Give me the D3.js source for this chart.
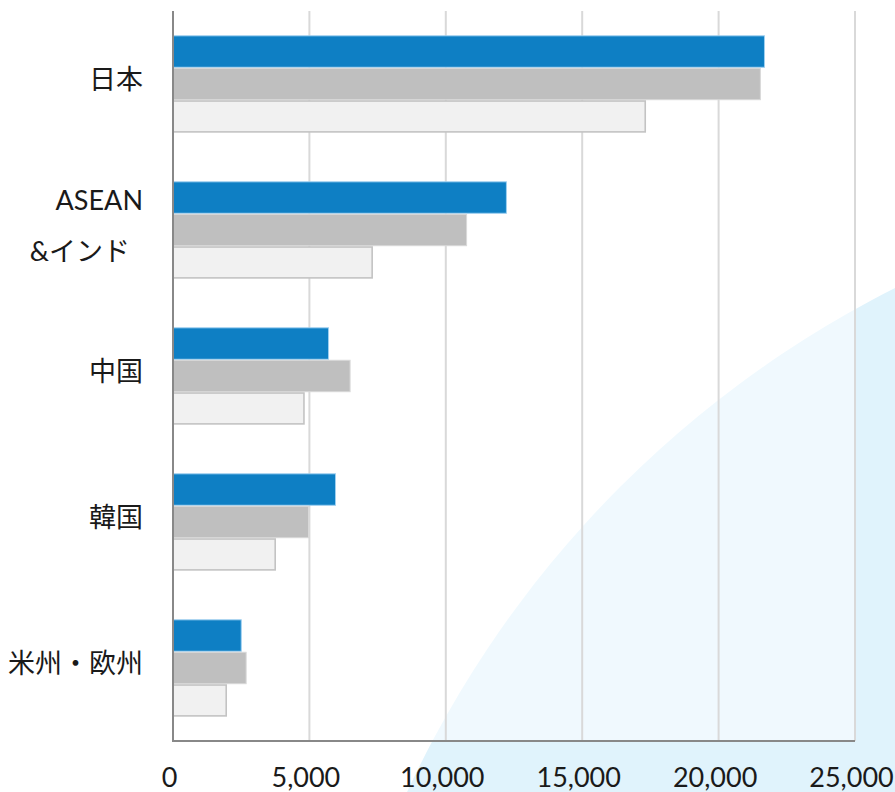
<!DOCTYPE html>
<html lang="ja">
<head>
<meta charset="utf-8">
<script src="https://cdn.jsdelivr.net/npm/d3@7"></script>
<style>
  html, body { margin: 0; padding: 0; background: #ffffff; }
  svg { display: block; }
  .lbl { font-family: "Century Gothic", "Lato", "Noto Sans CJK JP", sans-serif; fill: #1a1a1a; }
</style>
</head>
<body>
<svg id="chart" width="895" height="792"></svg>
<script>
// Regions (top to bottom) and their label lines
const categories = ["日本", "ASEAN&インド", "中国", "韓国", "米州・欧州"];
const categoryLines = [["日本"], ["ASEAN", "&インド"], ["中国"], ["韓国"], ["米州・欧州"]];

// Three series per region, drawn top to bottom within each group
const seriesA = [21700, 12240, 5720, 5975, 2520];
const seriesB = [21550, 10780, 6510, 4985, 2700];
const seriesC = [17340, 7330, 4830, 3775, 1980];

const xTicks = [0, 5000, 10000, 15000, 20000, 25000];
const xMax = 25000;

const W = 895, H = 792;
const plot = { left: 173, right: 855, top: 11, bottom: 741 };

const svg = d3.select("#chart");

// decorative pale-blue sweep in the lower right
svg.append("circle")
  .attr("cx", 1375).attr("cy", 1241).attr("r", 1067)
  .attr("fill", "#e0f3fc");

// plot background, half-transparent white
svg.append("rect")
  .attr("x", plot.left).attr("y", plot.top)
  .attr("width", plot.right - plot.left).attr("height", plot.bottom - plot.top)
  .attr("fill", "#ffffff").attr("fill-opacity", 0.5);

const x = d3.scaleLinear().domain([0, xMax]).range([plot.left, plot.right]);
const y = d3.scaleBand().domain(categories)
  .range([plot.top, plot.bottom])
  .paddingInner(0.333).paddingOuter(0.1665);

const seriesKeys = ["A", "B", "C"];
const seriesData = { A: seriesA, B: seriesB, C: seriesC };
const ySub = d3.scaleBand().domain(seriesKeys).range([0, y.bandwidth()]);

const barStyle = {
  A: { fill: "#0e7fc4", stroke: "#9fd0f0", sw: 1 },
  B: { fill: "#bfbfbf", stroke: "#d9d9d9", sw: 1 },
  C: { fill: "#f1f1f1", stroke: "#c3c3c3", sw: 1.6 }
};

// vertical gridlines
svg.append("g")
  .selectAll("line")
  .data(xTicks.filter(d => d > 0))
  .join("line")
  .attr("x1", d => x(d)).attr("x2", d => x(d))
  .attr("y1", plot.top).attr("y2", plot.bottom)
  .attr("stroke", "#d9d9d9").attr("stroke-width", 2);

// bars
const groups = svg.append("g")
  .selectAll("g")
  .data(categories)
  .join("g")
  .attr("transform", d => `translate(0,${y(d)})`);

groups.selectAll("rect")
  .data((d, i) => seriesKeys.map(k => ({ key: k, value: seriesData[k][i] })))
  .join("rect")
  .attr("x", x(0))
  .attr("y", d => ySub(d.key) + barStyle[d.key].sw / 2)
  .attr("width", d => x(d.value) - x(0) - barStyle[d.key].sw / 2)
  .attr("height", d => ySub.bandwidth() - barStyle[d.key].sw)
  .attr("fill", d => barStyle[d.key].fill)
  .attr("stroke", d => barStyle[d.key].stroke)
  .attr("stroke-width", d => barStyle[d.key].sw);

// x axis (labels only; baseline drawn separately)
const xAxis = svg.append("g")
  .attr("transform", `translate(0,${plot.bottom})`)
  .call(d3.axisBottom(x).tickValues(xTicks).tickFormat(d3.format(",")).tickSize(0).tickPadding(0));
xAxis.select(".domain").remove();
xAxis.selectAll("text")
  .attr("class", "lbl")
  .attr("dy", null)
  .attr("y", 46)
  .attr("dx", -4)
  .style("font-size", "27px")
  .attr("fill", "#1a1a1a");

// axis lines
svg.append("line")
  .attr("x1", plot.left).attr("x2", plot.right)
  .attr("y1", plot.bottom).attr("y2", plot.bottom)
  .attr("stroke", "#888888").attr("stroke-width", 2);
svg.append("line")
  .attr("x1", plot.left).attr("x2", plot.left)
  .attr("y1", plot.top).attr("y2", plot.bottom + 1)
  .attr("stroke", "#888888").attr("stroke-width", 2);

// category labels
const labelX = 143;
const lineGap = 51;
const labels = svg.append("g")
  .selectAll("text")
  .data(categories)
  .join("text")
  .attr("class", "lbl")
  .attr("text-anchor", "end")
  .style("font-size", "27px")
  .attr("transform", d => `translate(${labelX},${y(d) + y.bandwidth() / 2 - 4})`);

labels.each(function (d, i) {
  const lines = categoryLines[i];
  const t = d3.select(this);
  lines.forEach((ln, j) => {
    t.append("tspan")
      .attr("x", j > 0 ? -13 : 0)
      .attr("y", (j - (lines.length - 1) / 2) * lineGap)
      .attr("dy", "0.35em")
      .text(ln);
  });
});
</script>
</body>
</html>
